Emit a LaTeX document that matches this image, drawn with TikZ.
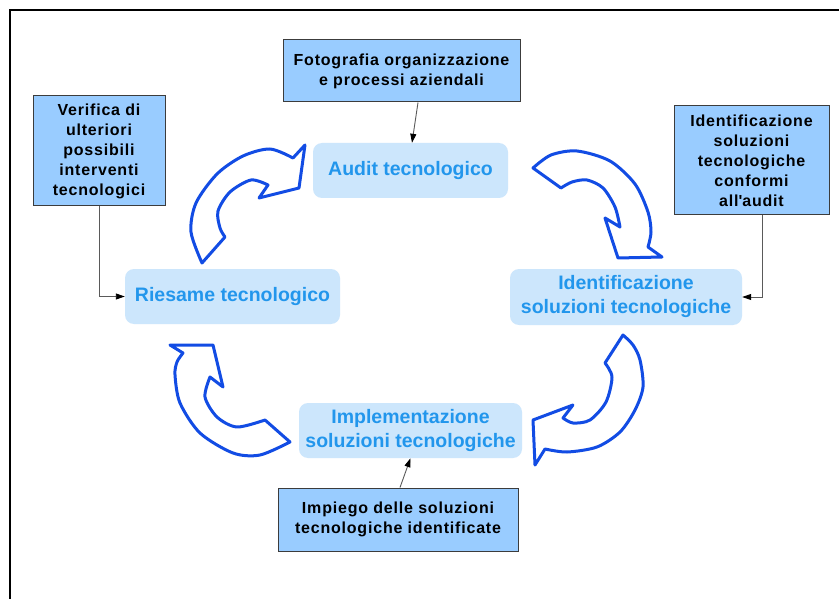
\documentclass[tikz,border=0pt]{standalone}
\usepackage{fontspec}
\setmainfont{Liberation Sans}
\newfontfamily\boxfont{Liberation Sans}[LetterSpace=5]
\usetikzlibrary{arrows.meta}
\definecolor{arrowblue}{RGB}{18,76,228}
\definecolor{cycfill}{RGB}{204,230,252}
\definecolor{cyctext}{RGB}{34,150,236}
\definecolor{boxfill}{RGB}{153,204,255}
\definecolor{boxline}{RGB}{60,60,60}
\definecolor{conncol}{RGB}{90,90,90}
\begin{document}
\begin{tikzpicture}[x=1pt,y=-1pt,
 cyc/.style={fill=cycfill, rounded corners=9pt, text=cyctext, font=\fontsize{19.5}{24}\selectfont\bfseries, align=center, inner sep=0pt},
 infobox/.style={fill=boxfill, draw=boxline, line width=1pt, font=\boxfont\fontsize{16}{20}\selectfont\bfseries, align=center, inner sep=0pt},
 connector/.style={draw=conncol, line width=0.9pt, -{Triangle[length=9pt,width=6pt,color=black]}},
 bigarrow/.style={draw=arrowblue, fill=white, line width=3pt, line join=round}
]
\useasboundingbox (0,0) rectangle (839,599);
\fill[white] (0,0) rectangle (839,599);
\draw[line width=2pt] (10,599) -- (10,10.5) -- (839,10.5);

% cycle nodes
\node[cyc, minimum width=195pt, minimum height=55pt] (audit) at (410.5,170.5) {Audit tecnologico};
\node[cyc, minimum width=215pt, minimum height=55pt] (riesame) at (232.5,296.5) {Riesame tecnologico};
\node[cyc, minimum width=232pt, minimum height=56pt] (ident) at (626,297) {Identificazione\\soluzioni tecnologiche};
\node[cyc, minimum width=223pt, minimum height=55pt] (impl) at (410.5,430.5) {Implementazione\\soluzioni tecnologiche};

% info boxes
\node[infobox, minimum width=237pt, minimum height=62pt] (foto) at (401.5,71) {Fotografia organizzazione\\e processi aziendali};
\node[infobox, minimum width=132pt, minimum height=110pt] (verif) at (99,151) {Verifica di\\ulteriori\\possibili\\interventi\\tecnologici};
\node[infobox, minimum width=155pt, minimum height=109pt] (conf) at (751.5,160.5) {Identificazione\\soluzioni\\tecnologiche\\conformi\\all\textquotesingle audit};
\node[infobox, minimum width=240pt, minimum height=63pt] (impiego) at (398,519.5) {Impiego delle soluzioni\\tecnologiche identificate};

% connectors
\draw[connector] ([xshift=16.5pt]foto.south) -- ([xshift=1.5pt]audit.north);
\draw[connector] (verif.south) |- (riesame.west);
\draw[connector] ([xshift=10.5pt]conf.south) |- (ident.east);
\draw[connector] ([xshift=2pt]impiego.north) -- (impl.south);

% curved block arrows
\draw[bigarrow] plot[smooth] coordinates {(202,263) (191,232) (196,203) (217,174) (243,156) (270,149) (293,158)}
  -- (305,145) -- (299,188) -- (259,198) -- (268,185)
  -- plot[smooth] coordinates {(268,185) (251,180) (230,192) (218,211) (220,228) (225,237)} -- cycle;

\draw[bigarrow] plot[smooth] coordinates {(533,168) (551,155) (577,151) (610,161) (635,184) (648,212) (651,232) (648,247)}
  -- (662,257) -- (618,258) -- (605,218) -- (620,227)
  -- plot[smooth] coordinates {(620,227) (615,207) (603,188) (587,180) (572,182) (561,188)} -- cycle;

\draw[bigarrow] plot[smooth] coordinates {(623,335) (633,345) (640,360) (643,387) (635,410) (620,432) (597,447) (567,452) (545,449)}
  -- (535,465) -- (533,420) -- (573,405) -- (563,418)
  -- plot[smooth] coordinates {(563,418) (573,423) (590,420) (606,402) (612,377) (605,363)} -- cycle;

\draw[bigarrow] plot[smooth] coordinates {(290,442) (260,455) (233,453) (200,433) (180,403) (175,375) (177,362) (183,353)}
  -- (170,345) -- (213,345) -- (223,387) -- (210,377)
  -- plot[smooth] coordinates {(210,377) (205,397) (217,417) (237,427) (265,420)} -- cycle;
\end{tikzpicture}
\end{document}
